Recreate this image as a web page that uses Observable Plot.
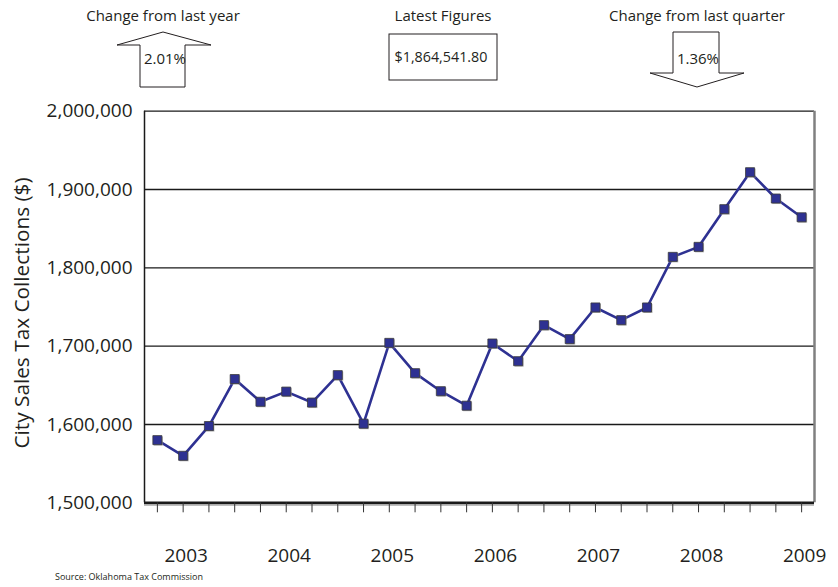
<!DOCTYPE html>
<html><head><meta charset="utf-8">
<script src="https://cdn.jsdelivr.net/npm/d3@7"></script>
<script src="https://cdn.jsdelivr.net/npm/@observablehq/plot@0.6"></script>
<style>
body{margin:0;background:#fff;}
#chart{width:838px;height:587px;}
</style>
</head><body><div id="chart"></div>
<script>
// Quarterly city sales tax collections ($)
const quarter = [0,1,2,3,4,5,6,7,8,9,10,11,12,13,14,15,16,17,18,19,20,21,22,23,24,25];
const collections = [1580000,1560000,1598000,1658000,1629000,1642000,1628000,1663000,1601000,1704200,
  1665500,1642500,1624000,1703400,1680800,1726800,1709000,1749400,1733200,1749400,
  1814000,1826800,1874900,1922100,1888500,1864541.80];
const yearLabels = ["2003","2004","2005","2006","2007","2008","2009"];
const yearQuarter = [1,5,9,13,17,21,25];
const yTicks = [1500000,1600000,1700000,1800000,1900000,2000000];
const gridValues = [1600000,1700000,1800000,1900000];
const yTitle = "City Sales Tax Collections ($)";
const headerTitles = ["Change from last year","Latest Figures","Change from last quarter"];
const headerValues = ["2.01%","$1,864,541.80","1.36%"];
const sourceNote = "Source: Oklahoma Tax Commission";

const ink = "#231f20";
const blue = "#2e3192";
const font = "'Open Sans', sans-serif";

const chart = Plot.plot({
  width: 838,
  height: 587,
  marginTop: 110.7,
  marginBottom: 84.7,
  marginLeft: 144,
  marginRight: 24,
  x: {domain: [-0.5, 25.5], axis: null},
  y: {domain: [1500000, 2000000], axis: null},
  style: {fontFamily: font, background: "white", color: ink, overflow: "visible"},
  marks: [
    Plot.ruleY(gridValues, {stroke: "#1a1a1a", strokeWidth: 1.3}),
    Plot.ruleY([2000000], {stroke: "#1a1a1a", strokeWidth: 1.3}),
    Plot.ruleX([-0.5], {stroke: "#1a1a1a", strokeWidth: 1.5}),
    Plot.ruleX([25.5], {stroke: "#808080", strokeWidth: 2.5}),
    Plot.ruleY([1500000], {stroke: "#aaaaaa", strokeWidth: 2, dy: 2}),
    Plot.ruleY([1500000], {stroke: "#1a1a1a", strokeWidth: 2.5}),
    Plot.axisX({ticks: quarter, tickSize: 10, tickFormat: () => "", stroke: "#333", strokeWidth: 1}),
    Plot.text(yearLabels, {x: yearQuarter, text: d => d, frameAnchor: "bottom", lineAnchor: "middle", dy: 53, dx: 3, fontSize: 19, fill: ink}),
    Plot.axisY({ticks: yTicks, tickSize: 0, tickPadding: 12, fontSize: 19, tickFormat: d3.format(","), fill: ink}),
    Plot.line(quarter, {x: quarter, y: collections, stroke: blue, strokeWidth: 2.6}),
    Plot.dot(quarter, {x: quarter, y: collections, symbol: "square", r: 5.1, fill: "#9a9a9a", dx: 1, dy: 1, fillOpacity: 0.7}),
    Plot.dot(quarter, {x: quarter, y: collections, symbol: "square", r: 5.1, fill: blue, stroke: "#3a3a3a", strokeWidth: 0.8})
  ]
});

// Decorations drawn in pixel space
const svg = d3.select(chart);
const g = svg.append("g").attr("font-family", font).attr("fill", ink);
// y-axis title
g.append("text").attr("transform", "translate(23,313) rotate(-90)")
  .attr("text-anchor", "middle").attr("dominant-baseline", "middle")
  .attr("font-size", 20.8).text(yTitle);
const titleX = [163, 443, 697];
headerTitles.forEach((t, i) => {
  g.append("text").attr("x", titleX[i]).attr("y", 17).attr("text-anchor", "middle")
    .attr("dominant-baseline", "middle").attr("font-size", 15).text(t);
});
// up arrow
g.append("path").attr("d", "M140,87 L140,45 L117,45 L163,32 L211,45 L185,45 L185,87 Z")
  .attr("fill", "white").attr("stroke", ink).attr("stroke-width", 1);
// box
g.append("rect").attr("x", 389).attr("y", 34).attr("width", 108).attr("height", 46)
  .attr("fill", "white").attr("stroke", ink).attr("stroke-width", 1);
// down arrow
g.append("path").attr("d", "M673,32 L719,32 L719,73 L744,73 L697,87 L650,73 L673,73 Z")
  .attr("fill", "white").attr("stroke", ink).attr("stroke-width", 1);
const valX = [165, 441, 698];
const valY = [59.5, 58.5, 59.5];
headerValues.forEach((t, i) => {
  g.append("text").attr("x", valX[i]).attr("y", valY[i]).attr("text-anchor", "middle")
    .attr("dominant-baseline", "middle").attr("font-size", i === 1 ? 14.3 : 15).text(t);
});
g.append("text").attr("x", 55).attr("y", 578).attr("text-anchor", "start")
  .attr("dominant-baseline", "middle").attr("font-size", 9).text(sourceNote);

document.getElementById("chart").appendChild(chart);
</script>
</body></html>
